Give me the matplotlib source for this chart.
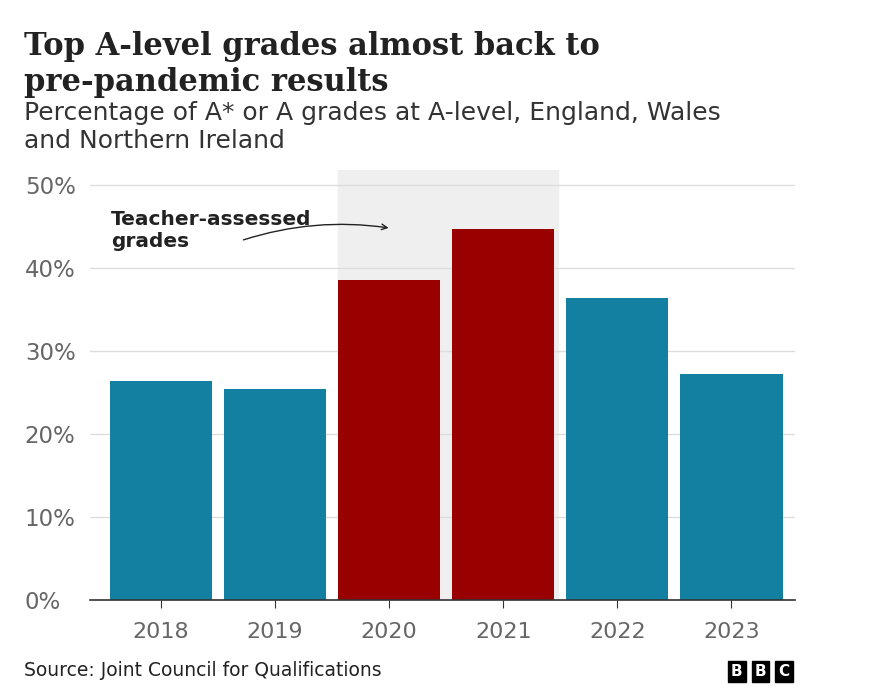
import matplotlib
matplotlib.use("Agg")
import matplotlib.pyplot as plt

years = ["2018", "2019", "2020", "2021", "2022", "2023"]
values = [26.4, 25.4, 38.6, 44.7, 36.4, 27.2]
colors = ["#1380A1", "#1380A1", "#990000", "#990000", "#1380A1", "#1380A1"]
yticks = [0, 10, 20, 30, 40, 50]
ytick_labels = ["0%", "10%", "20%", "30%", "40%", "50%"]

fig = plt.figure(figsize=(8.75, 6.95), dpi=100)
ax = fig.add_axes([0.103, 0.137, 0.806, 0.618])
ax.set_xlim(-0.62, 5.56)
ax.set_ylim(0, 51.8)
ax.axvspan(1.55, 3.48, color="#efefef", zorder=0)
ax.bar(range(len(years)), values, width=0.895, color=colors, zorder=2)
ax.set_yticks(yticks)
ax.set_yticklabels(ytick_labels)
ax.grid(axis="y", color="#dddddd", linewidth=1, zorder=1)
ax.set_xticks(range(len(years)))
ax.set_xticklabels(years)
for s in ["top", "right", "left"]:
    ax.spines[s].set_visible(False)
ax.spines["bottom"].set_color("#333333")
ax.spines["bottom"].set_linewidth(1.2)
ax.tick_params(axis="y", length=0, pad=47, labelsize=16.5, labelcolor="#666666")
for t in ax.get_yticklabels():
    t.set_ha("left")
ax.tick_params(axis="x", length=6, color="#333333", labelsize=16, labelcolor="#666666", pad=10)

ax.text(-0.44, 47.0, "Teacher-assessed\ngrades", fontsize=14.5, fontweight="bold",
        color="#222222", va="top", ha="left", linespacing=1.2, zorder=3)
ax.annotate("", xy=(2.02, 44.8), xytext=(0.7, 43.3),
            arrowprops=dict(arrowstyle="->", color="#222222", lw=1,
                            connectionstyle="arc3,rad=-0.12"), zorder=3)

fig.text(0.028, 0.955, "Top A-level grades almost back to\npre-pandemic results",
         fontsize=22, fontweight="bold", family="DejaVu Serif", va="top",
         color="#222222", linespacing=1.2)
fig.text(0.028, 0.855, "Percentage of A* or A grades at A-level, England, Wales\nand Northern Ireland",
         fontsize=18, va="top", color="#333333", linespacing=1.2)
fig.text(0.028, 0.027, "Source: Joint Council for Qualifications", fontsize=13.5, color="#222222")
for i, ch in enumerate("BBC"):
    fig.text(0.842 + i * 0.027, 0.027, ch, fontsize=11, fontweight="bold", color="white",
             ha="center", bbox=dict(boxstyle="square,pad=0.2", fc="black", ec="black"))
fig.savefig("out.png", dpi=100, facecolor="white")
